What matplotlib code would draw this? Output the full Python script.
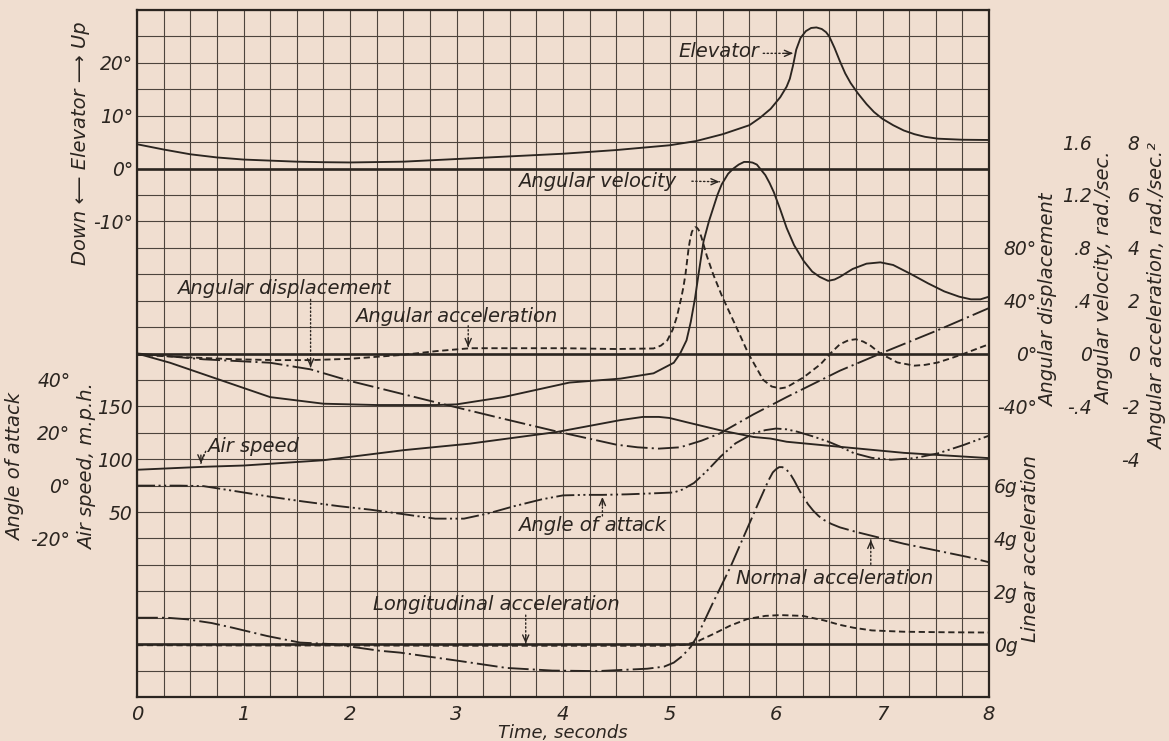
import numpy as np
import matplotlib
matplotlib.use("Agg")
import matplotlib.pyplot as plt

plt.rcParams['font.family'] = ['DejaVu Sans']
plt.rcParams['font.style'] = 'italic'
plt.rcParams['lines.scale_dashes'] = False

# ---------------- data ----------------
time_ticks = [0, 1, 2, 3, 4, 5, 6, 7, 8]

elev_ticks = [-10, 0, 10, 20]
elev_labels = ["-10°", "0°", "10°", "20°"]
aoa_ticks = [-20, 0, 20, 40]
aoa_labels = ["-20°", "0°", "20°", "40°"]
air_ticks = [50, 100, 150]
air_labels = ["50", "100", "150"]
disp_ticks = [-40, 0, 40, 80]
disp_labels = ["-40°", "0°", "40°", "80°"]
vel_ticks = [-0.4, 0, 0.4, 0.8, 1.2, 1.6]
vel_labels = ["-.4", "0", ".4", ".8", "1.2", "1.6"]
acc_ticks = [-4, -2, 0, 2, 4, 6, 8]
acc_labels = ["-4", "-2", "0", "2", "4", "6", "8"]
lin_ticks = [0, 2, 4, 6]
lin_labels = ["0g", "2g", "4g", "6g"]

# Elevator angle, degrees
elev_t = [0, 0.25, 0.5, 0.75, 1.0, 1.25, 1.5, 1.75, 2.0, 2.5, 3.0, 3.5, 4.0, 4.5, 5.0,
          5.25, 5.5, 5.75, 5.85, 5.95, 6.04, 6.1, 6.13, 6.16, 6.19, 6.23, 6.28, 6.33, 6.38,
          6.43, 6.47, 6.5, 6.55, 6.6, 6.65, 6.7, 6.77, 6.85, 6.92, 7.0, 7.1, 7.2, 7.3, 7.4,
          7.52, 7.75, 8.0]
elev_deg = [4.6, 3.6, 2.7, 2.1, 1.7, 1.5, 1.3, 1.2, 1.15, 1.3, 1.8, 2.3, 2.8, 3.5, 4.4,
            5.2, 6.5, 8.2, 9.6, 11.3, 13.5, 15.5, 17.0, 19.5, 22.5, 24.7, 26.0, 26.6, 26.7,
            26.4, 25.8, 25.0, 22.8, 20.3, 18.0, 16.2, 14.2, 12.2, 10.7, 9.4, 8.2, 7.2, 6.5,
            6.0, 5.65, 5.45, 5.4]

# Angular velocity, rad/sec
vel_t = [0, 0.31, 0.78, 1.25, 1.75, 2.25, 2.81, 3.0, 3.44, 4.06, 4.54, 4.85, 5.04, 5.1,
         5.16, 5.2, 5.24, 5.28, 5.32, 5.37, 5.41, 5.45, 5.49, 5.55, 5.6, 5.65, 5.7, 5.74,
         5.78, 5.82, 5.86, 5.9, 5.94, 5.98, 6.04, 6.1, 6.17, 6.26, 6.34, 6.41, 6.49, 6.55,
         6.6, 6.66, 6.72, 6.85, 6.98, 7.1, 7.27, 7.43, 7.58, 7.72, 7.83, 7.92, 8.0]
vel_rad = [0, -0.07, -0.2, -0.33, -0.38, -0.39, -0.39, -0.385, -0.33, -0.22, -0.19, -0.15,
           -0.07, 0.0, 0.1, 0.24, 0.42, 0.64, 0.85, 1.0, 1.1, 1.2, 1.28, 1.36, 1.4, 1.43,
           1.45, 1.45, 1.445, 1.43, 1.39, 1.35, 1.29, 1.22, 1.09, 0.95, 0.82, 0.7, 0.62,
           0.58, 0.55, 0.56, 0.58, 0.61, 0.64, 0.68, 0.69, 0.67, 0.6, 0.53, 0.47, 0.43,
           0.41, 0.41, 0.43]

# Angular acceleration, rad/sec^2
acc_t = [0, 0.5, 0.94, 1.3, 1.63, 2.0, 2.5, 2.81, 3.13, 3.5, 4.0, 4.5, 4.85, 4.92, 4.98,
         5.03, 5.07, 5.11, 5.13, 5.15, 5.165, 5.18, 5.195, 5.21, 5.225, 5.24, 5.255, 5.27,
         5.285, 5.3, 5.35, 5.41, 5.49, 5.57, 5.65, 5.74, 5.81, 5.88, 5.96, 6.04, 6.1, 6.26,
         6.42, 6.51, 6.6, 6.68, 6.75, 6.82, 6.89, 6.98, 7.14, 7.3, 7.4, 7.52, 7.65, 7.77,
         7.9, 8.0]
acc_rad = [-0.05, -0.15, -0.22, -0.25, -0.25, -0.2, -0.05, 0.09, 0.2, 0.2, 0.2, 0.17, 0.19,
           0.3, 0.5, 0.9, 1.4, 2.1, 2.5, 3.0, 3.5, 4.0, 4.35, 4.6, 4.72, 4.78, 4.77, 4.7,
           4.58, 4.4, 3.7, 3.0, 2.2, 1.5, 0.8, 0.0, -0.5, -1.0, -1.25, -1.32, -1.28, -0.9,
           -0.4, 0.0, 0.35, 0.5, 0.54, 0.45, 0.29, 0.0, -0.34, -0.46, -0.43, -0.34, -0.17,
           0.0, 0.2, 0.35]

# Angular displacement, degrees
disp_t = [0, 0.625, 1.25, 1.63, 2.0, 2.5, 2.94, 3.44, 3.94, 4.5, 4.7, 4.9, 5.1, 5.3, 5.47,
          5.79, 6.1, 6.6, 7.0, 7.5, 8.0]
disp_deg = [0, -4.4, -7, -12, -20.8, -30.8, -39.6, -49.4, -59, -69, -71, -72, -71, -66,
            -60.6, -46, -33, -13, 0.6, 17, 34.4]

# Air speed, m.p.h.
air_t = [0, 0.625, 1.0, 1.75, 2.5, 3.125, 3.94, 4.54, 4.75, 4.9, 5.0, 5.16, 5.47, 5.79,
         5.95, 6.1, 6.57, 7.2, 8.0]
air_mph = [90, 92.8, 94, 99, 108.5, 114.7, 125.7, 137, 140, 140, 139, 135, 127.5, 121,
           119.5, 116.5, 112, 106, 101]

# Angle of attack, degrees
aoa_t = [0, 0.4, 0.625, 0.94, 1.25, 1.56, 1.9, 2.19, 2.5, 2.8, 3.07, 3.3, 3.54, 3.8, 4.0,
         4.2, 4.37, 4.6, 4.8, 5.04, 5.12, 5.23, 5.35, 5.48, 5.62, 5.79, 5.9, 6.0, 6.1, 6.2,
         6.35, 6.5, 6.6, 6.73, 6.9, 7.08, 7.3, 7.52, 7.75, 8.0]
aoa_deg = [0, 0, -0.2, -2.2, -4.2, -6, -7.8, -9.1, -10.8, -12.5, -12.5, -10.5, -7.8, -5.2,
           -3.7, -3.5, -3.5, -3.3, -3.0, -2.6, -1.5, 1.0, 5.5, 11, 16, 19.8, 21, 21.6, 21.3,
           20.4, 18.6, 16.5, 14.8, 12.3, 10.5, 9.8, 10.4, 12.2, 15.2, 18.9]

# Normal acceleration, g
norm_t = [0, 0.28, 0.47, 0.7, 0.9, 1.22, 1.53, 1.84, 2.28, 2.47, 3.0, 3.47, 3.9, 4.32, 4.79,
          4.95, 5.04, 5.12, 5.2, 5.26, 5.4, 5.57, 5.7, 5.83, 5.93, 5.97, 6.0, 6.03, 6.06,
          6.1, 6.14, 6.17, 6.2, 6.23, 6.27, 6.3, 6.35, 6.4, 6.45, 6.52, 6.6, 6.75, 6.9, 7.2,
          7.5, 7.8, 8.0]
norm_g = [1.0, 1.0, 0.94, 0.8, 0.62, 0.31, 0.06, 0.0, -0.25, -0.32, -0.62, -0.9, -1.0,
          -1.02, -0.93, -0.85, -0.7, -0.45, -0.1, 0.3, 1.5, 2.9, 4.1, 5.3, 6.2, 6.5, 6.62,
          6.7, 6.7, 6.6, 6.4, 6.2, 5.97, 5.75, 5.5, 5.3, 5.05, 4.85, 4.7, 4.55, 4.42, 4.25,
          4.1, 3.8, 3.55, 3.3, 3.1]

# Longitudinal acceleration, g
long_t = [0, 1, 2, 3, 4, 5.0, 5.15, 5.26, 5.41, 5.57, 5.73, 5.9, 6.04, 6.25, 6.45, 6.6,
          6.73, 6.9, 7.2, 7.6, 8.0]
long_g = [-0.04, -0.05, -0.05, -0.06, -0.06, -0.06, -0.02, 0.1, 0.38, 0.7, 0.95, 1.07,
          1.1, 1.07, 0.9, 0.73, 0.62, 0.52, 0.47, 0.45, 0.44]

# ---------------- styling ----------------
BG = '#F0DED0'
INK = '#2b2520'
GRID = '#4d443d'
W_PX, H_PX = 1169, 741

fig = plt.figure(figsize=(W_PX / 100, H_PX / 100), dpi=100, facecolor=BG)
left_px, right_px, top_px, bot_px = 137, 989, 10, 697
ax = fig.add_axes([left_px / W_PX, 1 - bot_px / H_PX,
                   (right_px - left_px) / W_PX, (bot_px - top_px) / H_PX], facecolor=BG)
N_ROWS = 26
ax.set_xlim(0, 8)
ax.set_ylim(0, N_ROWS)
ax.set_xticks(time_ticks)
ax.set_xticklabels([str(v) for v in time_ticks])
ax.set_xticks(np.arange(0, 8.001, 0.25), minor=True)
ax.set_yticks(np.arange(0, N_ROWS + 1))
ax.tick_params(axis='y', labelleft=False)
ax.tick_params(which='both', length=0)
ax.tick_params(axis='x', labelsize=14, pad=6, colors=INK)
ax.grid(which='both', color=GRID, lw=0.8)
ax.set_axisbelow(True)
for sp in ax.spines.values():
    sp.set_linewidth(1.6)
    sp.set_color(INK)


def twin(side, ylim, ticks, labels, pad, ha):
    t = ax.twinx()
    t.set_xlim(0, 8)
    t.set_ylim(*ylim)
    for sp in t.spines.values():
        sp.set_visible(False)
    if side == 'left':
        t.yaxis.set_ticks_position('left')
    t.set_yticks(ticks)
    t.set_yticklabels(labels, ha=ha)
    t.tick_params(axis='y', length=0, pad=pad, labelsize=13.5, colors=INK)
    return t


# scales: each series' value range over the 26 grid rows
ax_el = twin('left', (-100, 30), elev_ticks, elev_labels, 3, 'right')
ax_air = twin('left', (-125, 525), air_ticks, air_labels, 3, 'right')
ax_aoa = twin('left', (-80, 180), aoa_ticks, aoa_labels, 48, 'right')
ax_disp = twin('right', (-260, 260), disp_ticks, disp_labels, 34.5, 'right')
ax_vel = twin('right', (-2.6, 2.6), vel_ticks, vel_labels, 74, 'right')
ax_acc = twin('right', (-13, 13), acc_ticks, acc_labels, 108.5, 'right')
ax_lin = twin('right', (-2, 24), lin_ticks, lin_labels, 3.5, 'left')

# bold zero lines
for a in (ax_el, ax_disp, ax_lin):
    a.axhline(0, color=INK, lw=1.9, zorder=1)

LW = 1.35
DASH = (0, (4.5, 2.6))
DASHDOT = (0, (15, 3, 1.5, 3))
DASHDOTDOT = (0, (13, 2.5, 1.5, 2.5, 1.5, 2.5))

ax_el.plot(elev_t, elev_deg, color=INK, lw=LW)
ax_vel.plot(vel_t, vel_rad, color=INK, lw=LW)
ax_acc.plot(acc_t, acc_rad, color=INK, lw=LW, ls=DASH)
ax_disp.plot(disp_t, disp_deg, color=INK, lw=LW, ls=DASHDOT)
ax_air.plot(air_t, air_mph, color=INK, lw=LW)
ax_aoa.plot(aoa_t, aoa_deg, color=INK, lw=LW, ls=DASHDOTDOT)
ax_lin.plot(norm_t, norm_g, color=INK, lw=LW, ls=DASHDOT)
ax_lin.plot(long_t, long_g, color=INK, lw=LW, ls=DASH)

# ---------------- annotations ----------------
FS = 14


def label(x, row, s):
    ax.text(x, row, s, fontsize=FS, va='baseline', ha='left', color=INK, zorder=5)


def arrow(a, start, end, direction):
    a.annotate('', xy=end, xycoords='data', xytext=start, textcoords=ax.transData,
               arrowprops=dict(arrowstyle='-', ls=(0, (1, 1.8)), lw=1.0, color=INK,
                               shrinkA=0, shrinkB=0))
    dx, dy = direction
    a.annotate('', xy=end, xycoords='data', xytext=(-dx * 6, -dy * 6),
               textcoords='offset points',
               arrowprops=dict(arrowstyle='->,head_length=0.5,head_width=0.22', lw=1.0,
                               color=INK, shrinkA=0, shrinkB=0))


label(5.08, 24.24, "Elevator")
arrow(ax_el, (5.88, 24.36), (6.16, 21.8), (1, 0))

label(3.58, 19.3, "Angular velocity")
arrow(ax_vel, (5.21, 19.52), (5.47, 1.3), (1, 0))

label(0.38, 15.26, "Angular displacement")
arrow(ax_disp, (1.63, 15.05), (1.63, -10.5), (0, -1))

label(2.05, 14.2, "Angular acceleration")
arrow(ax_acc, (3.11, 14.05), (3.11, 0.24), (0, -1))

label(0.66, 9.27, "Air speed")
arrow(ax_air, (0.645, 9.3), (0.6, 96), (0, -1))

label(3.58, 6.29, "Angle of attack")
arrow(ax_aoa, (4.37, 6.85), (4.37, -4.3), (0, 1))

label(5.62, 4.29, "Normal acceleration")
arrow(ax_lin, (6.89, 5.02), (6.89, 3.95), (0, 1))

label(2.22, 3.31, "Longitudinal acceleration")
arrow(ax_lin, (3.65, 3.1), (3.65, 0.02), (0, -1))

# ---------------- axis titles ----------------
def ftext(xpx, ypx, s, fs=14):
    fig.text(xpx / W_PX, 1 - ypx / H_PX, s, rotation=90, ha='center', va='center',
             fontsize=fs, color=INK)


ftext(81, 143, "Down ⟵ Elevator ⟶ Up")
ftext(16, 467, "Angle of attack")
ftext(88, 467, "Air speed, m.p.h.")
ftext(1049, 300, "Angular displacement")
ftext(1105, 278, "Angular velocity, rad./sec.")
ftext(1158, 297, "Angular acceleration, rad./sec.²")
ftext(1031, 548, "Linear acceleration")
fig.text(((left_px + right_px) / 2) / W_PX, 1 - 733 / H_PX, "Time, seconds",
         ha='center', va='center', fontsize=13, color=INK)

fig.savefig("out.png", dpi=100, facecolor=BG)
